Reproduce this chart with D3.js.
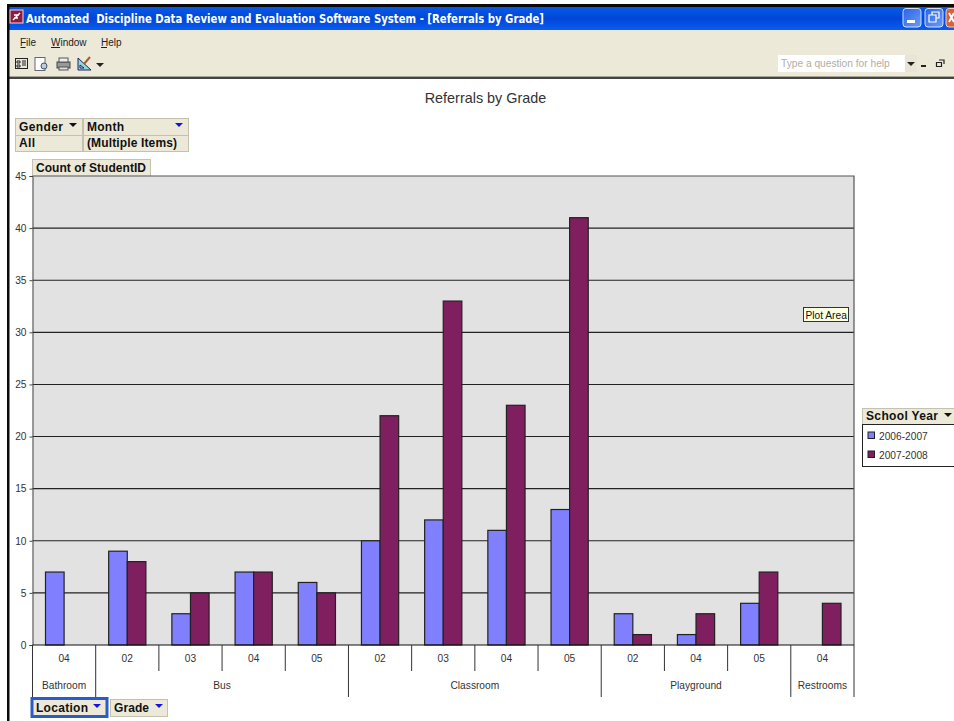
<!DOCTYPE html>
<html lang="en">

<head>
    <meta charset="UTF-8">
    <title>Referrals by Grade</title>
    <style>
        html, body { margin: 0; padding: 0; background: #fff; overflow: hidden; }
        svg { display: block; }
        text { font-family: "Liberation Sans", Arial, sans-serif; white-space: pre; }
        .field { font-weight: bold; font-size: 12px; fill: #111; }
    </style>
</head>

<body>
    <svg width="954" height="721" id="svg"></svg>
    <script src="https://d3js.org/d3.v7.min.js"></script>
    <script>
        const grades = ["04", "02", "03", "04", "05", "02", "03", "04", "05", "02", "04", "05", "04"]
        const locationNames = ["Bathroom", "Bus", "Classroom", "Playground", "Restrooms"]
        const locationSizes = [1, 4, 4, 3, 1]
        const seriesNames = ["2006-2007", "2007-2008"]
        const values0607 = [7, 9, 3, 7, 6, 10, 12, 11, 13, 3, 1, 4, 0]
        const values0708 = [0, 8, 5, 7, 5, 22, 33, 23, 41, 1, 3, 7, 4]
        const seriesColors = ["#8080ff", "#7f1f5f"]
        const yTicks = [0, 5, 10, 15, 20, 25, 30, 35, 40, 45]

        const svg = d3.select("svg#svg")
        const plot = { left: 32.5, right: 854, top: 176, bottom: 645 }

        const xScale = d3.scaleBand().domain(d3.range(grades.length)).range([plot.left, plot.right])
        const barWidth = 18.6
        const yScale = d3.scaleLinear().domain([0, 45]).range([plot.bottom, plot.top])

        // window frame
        const defs = svg.append("defs")
        const grad = defs.append("linearGradient").attr("id", "titleGrad").attr("x1", 0).attr("x2", 0).attr("y1", 0).attr("y2", 1)
        grad.append("stop").attr("offset", "0").attr("stop-color", "#0a5ae6")
        grad.append("stop").attr("offset", "0.5").attr("stop-color", "#0046d8")
        grad.append("stop").attr("offset", "1").attr("stop-color", "#0a5cf0")
        const btnGrad = defs.append("linearGradient").attr("id", "btnGrad").attr("x1", 0).attr("x2", 1).attr("y1", 0).attr("y2", 1)
        btnGrad.append("stop").attr("offset", "0").attr("stop-color", "#2a62e8")
        btnGrad.append("stop").attr("offset", "1").attr("stop-color", "#6c9cf4")

        function box(x, y, w, h, fill, stroke, sw) {
            return svg.append("rect").attr("x", x).attr("y", y).attr("width", w).attr("height", h)
                .attr("fill", fill).attr("stroke", stroke || "none").attr("stroke-width", sw || 1)
        }
        function label(x, y, str, size, fill, anchor) {
            return svg.append("text").attr("x", x).attr("y", y).text(str)
                .attr("font-size", size).attr("fill", fill || "#222").attr("text-anchor", anchor || "start")
        }
        function arrow(x, y, fill) {
            svg.append("path").attr("d", `M${x - 4},${y - 2}h8l-4,4z`).attr("fill", fill)
        }

        box(0, 0, 954, 721, "#fff")
        box(7, 4, 947, 3, "#0a0a0a")
        box(7, 7, 947, 23, "url(#titleGrad)")
        box(9, 30, 945, 47, "#ece9d8")
        box(9, 76, 945, 1, "#a8a594")
        box(9, 77, 945, 2, "#444")
        box(7, 4, 2.5, 717, "#0a0a0a")

        // title bar
        box(10, 10, 13, 13, "#8c1c44", "#f0d8d8")
        svg.append("path").attr("d", "M13,20L20,13M14,15h5M14,18h4").attr("stroke", "#fff").attr("stroke-width", 1.4).attr("fill", "none")
        label(26, 23, "Automated  Discipline Data Review and Evaluation Software System - [Referrals by Grade]", 12.4, "#fff")
            .style("font-family", "'DejaVu Sans'").attr("font-weight", "bold").attr("textLength", 518).attr("lengthAdjust", "spacingAndGlyphs")
        svg.append("rect").attr("x", 903).attr("y", 8.5).attr("width", 18).attr("height", 18.5).attr("rx", 3)
            .attr("fill", "url(#btnGrad)").attr("stroke", "#cfe0fa")
        box(907, 20, 8, 3, "#fff")
        svg.append("rect").attr("x", 925).attr("y", 8.5).attr("width", 18).attr("height", 18.5).attr("rx", 3)
            .attr("fill", "url(#btnGrad)").attr("stroke", "#cfe0fa")
        svg.append("path").attr("d", "M932,15v-3h7v6h-3M929,15h7v7h-7z").attr("fill", "none").attr("stroke", "#fff").attr("stroke-width", 1.2)
        svg.append("rect").attr("x", 946).attr("y", 8.5).attr("width", 12).attr("height", 18.5).attr("rx", 3)
            .attr("fill", "#d8603a").attr("stroke", "#f0d0c0")
        svg.append("path").attr("d", "M949,13l5,9M954,13l-5,9").attr("stroke", "#fff").attr("stroke-width", 2)

        // menu
        label(20, 46, "File", 10, "#222")
        label(51, 46, "Window", 10, "#222")
        label(101, 46, "Help", 10, "#222")
        svg.append("path").attr("d", "M20.5,47.5h5M51,47.5h9M101,47.5h6").attr("stroke", "#222")

        // toolbar icons
        box(15.5, 58.5, 12, 10, "#e8e8d8", "#222")
        svg.append("path").attr("d", "M17,61h3v2h-3zM17,65h3v2h-3zM22,61h4M22,63h4M22,65h4").attr("stroke", "#222").attr("fill", "none")
        box(35, 57.5, 10, 13, "#fff", "#667")
        svg.append("circle").attr("cx", 44).attr("cy", 66).attr("r", 3).attr("fill", "#bcd").attr("stroke", "#456")
        box(57, 62, 13, 6, "#999", "#444")
        box(59, 58, 9, 4, "#eee", "#555")
        box(59, 67, 9, 3, "#ddd", "#555")
        svg.append("path").attr("d", "M78,58v12h13zM80,65v3h4z").attr("fill", "#8fd8d8").attr("stroke", "#226").attr("fill-rule", "evenodd")
        svg.append("path").attr("d", "M84,64l6,-7").attr("stroke", "#a06030").attr("stroke-width", 2)
        arrow(100, 65, "#222")

        // help box
        box(778, 55, 127, 17, "#fff")
        label(781, 67, "Type a question for help", 10.2, "#b0aea4")
        box(905, 55, 12, 17, "#e8e5d4")
        arrow(911, 64, "#222")
        box(921, 65, 5, 2, "#222")
        svg.append("path").attr("d", "M939,60h5v4M936.5,62.5h5v4h-5z").attr("fill", "none").attr("stroke", "#222").attr("stroke-width", 1.2)

        label(485.5, 103, "Referrals by Grade", 14.4, "#333", "middle")

        // pivot field buttons, text fitted to the width
        function fieldText(x, y, str, len) {
            svg.append("text").attr("class", "field").attr("x", x).attr("y", y).text(str)
                .attr("textLength", len).attr("lengthAdjust", "spacing")
        }
        function fieldBox(x, y, w, h, str, len) {
            box(x + 0.5, y + 0.5, w, h, "#ece9d8", "#c4c1b0", 1)
            fieldText(x + 4, y + h - 4, str, len)
        }
        fieldBox(15, 118, 67, 17, "Gender", 44)
        fieldBox(83, 118, 105, 17, "Month", 37)
        fieldBox(15, 135, 67, 16, "All", 16)
        fieldBox(83, 135, 105, 16, "(Multiple Items)", 90)
        arrow(73, 125, "#111")
        arrow(179, 125, "#1414e0")
        fieldBox(32, 159, 118, 17, "Count of StudentID", 110)

        // plot area
        box(plot.left, plot.top, plot.right - plot.left, plot.bottom - plot.top, "#e2e2e2")

        svg.append("g").selectAll("line").data(yTicks.filter(d => d > 0 && d < 45)).join("line")
            .attr("x1", plot.left).attr("x2", plot.right)
            .attr("y1", d => yScale(d)).attr("y2", d => yScale(d))
            .attr("stroke", "#222").attr("stroke-width", 1.1)

        // bars, zero values leave a gap
        const series = [values0607, values0708]
        series.forEach((vals, s) => {
            const rows = vals.map((v, i) => ({ v, i })).filter(d => d.v > 0)
            svg.append("g").selectAll("rect").data(rows).join("rect")
                .attr("x", d => xScale(d.i) + xScale.bandwidth() / 2 + (s - 1) * barWidth)
                .attr("y", d => yScale(d.v))
                .attr("width", barWidth)
                .attr("height", d => plot.bottom - yScale(d.v))
                .attr("fill", seriesColors[s])
                .attr("stroke", "#222")
                .attr("stroke-width", 1.2)
        })

        // plot border on top and right
        svg.append("path").attr("d", `M${plot.left},${plot.top}H${plot.right}V${plot.bottom}`)
            .attr("fill", "none").attr("stroke", "#555").attr("stroke-width", 1.2)

        // y axis
        const yAxis = d3.axisLeft(yScale).tickValues(yTicks).tickSize(3).tickPadding(3)
        const yG = svg.append("g").attr("transform", `translate(${plot.left},0)`).call(yAxis)
        yG.select(".domain").attr("stroke", "#444")
        yG.selectAll("line").attr("stroke", "#444")
        yG.selectAll("text").attr("font-size", 10.2).attr("fill", "#333").style("font-family", "'Liberation Sans'")

        // x axis, two levels
        const xLine = svg.append("g").attr("stroke", "#333").attr("stroke-width", 1)
        xLine.append("line").attr("x1", plot.left).attr("x2", plot.right).attr("y1", plot.bottom).attr("y2", plot.bottom).attr("stroke", "#111")
        const groupEdges = d3.cumsum(locationSizes)
        const edgeX = i => i < grades.length ? xScale(i) : plot.right
        d3.range(grades.length + 1).forEach(i => {
            const major = i === 0 || groupEdges.includes(i)
            xLine.append("line").attr("x1", edgeX(i)).attr("x2", edgeX(i))
                .attr("y1", plot.bottom).attr("y2", major ? 697 : 671)
        })
        svg.append("g").selectAll("text").data(grades).join("text")
            .attr("x", (d, i) => xScale(i) + xScale.bandwidth() / 2)
            .attr("y", 662)
            .attr("text-anchor", "middle").attr("font-size", 10.2).attr("fill", "#333")
            .text(d => d)
        svg.append("g").selectAll("text").data(locationNames).join("text")
            .attr("x", (d, i) => (edgeX(i ? groupEdges[i - 1] : 0) + edgeX(groupEdges[i])) / 2)
            .attr("y", 688.5)
            .attr("text-anchor", "middle").attr("font-size", 10.2).attr("fill", "#333")
            .text(d => d)

        // tooltip
        box(803.5, 307.5, 45, 14, "#ffffe1", "#333")
        label(805.5, 318.5, "Plot Area", 10.2, "#111")

        // legend
        fieldBox(862, 408, 92, 16, "School Year", 72)
        arrow(948, 415, "#111")
        box(862.5, 424.5, 95, 42, "#fff", "#222")
        const legend = svg.append("g").selectAll("g").data(seriesNames).join("g")
            .attr("transform", (d, i) => `translate(868,${432 + i * 19})`)
        legend.append("rect").attr("width", 6.5).attr("height", 6.5)
            .attr("fill", (d, i) => seriesColors[i]).attr("stroke", "#222")
        legend.append("text").attr("x", 11).attr("y", 7.5).attr("font-size", 10.2).attr("fill", "#333").text(d => d)

        // row fields under the axis
        box(32, 698.5, 75, 18, "#ece9d8", "#2a5cc8", 3)
        fieldText(36, 712, "Location", 52)
        arrow(97, 706, "#1414e0")
        fieldBox(110, 699, 57, 17, "Grade", 35)
        arrow(159, 706, "#1414e0")
    </script>
</body>

</html>
